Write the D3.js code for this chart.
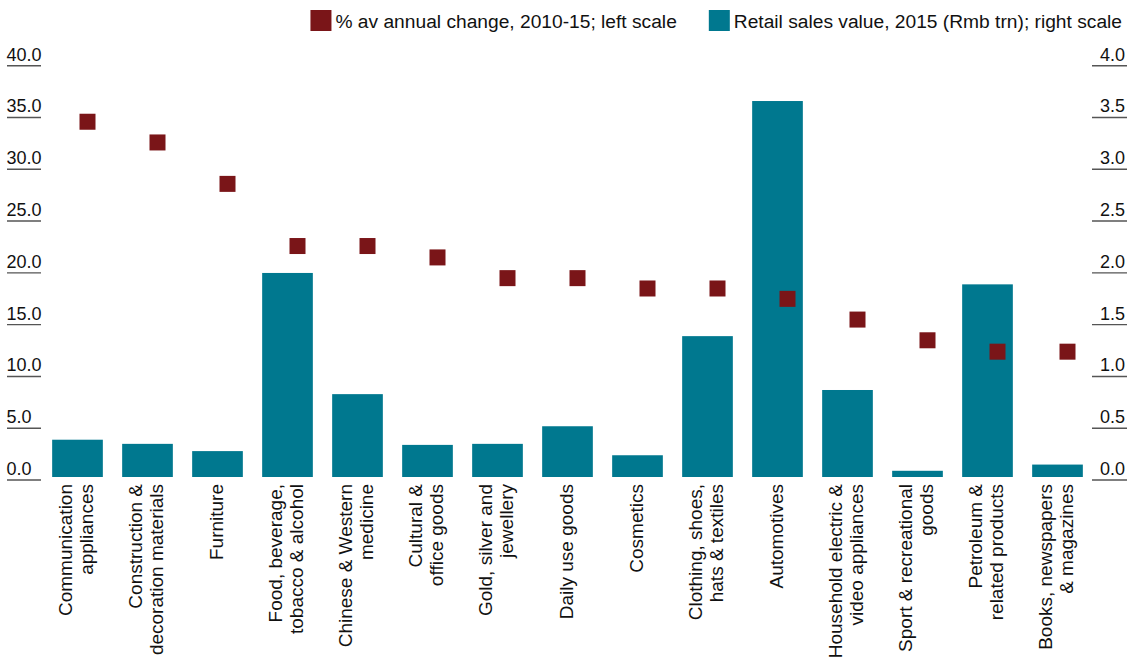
<!DOCTYPE html>
<html>
<head>
<meta charset="utf-8">
<script src="https://cdn.jsdelivr.net/npm/d3@7"></script>
<style>
  html, body { margin: 0; padding: 0; background: #fff; }
  svg { display: block; font-family: "Liberation Sans", Arial, sans-serif; }
</style>
</head>
<body>
<svg id="chart" width="1127" height="658"></svg>
<script>
// ---- data ----
const categories = [
  "Communication appliances",
  "Construction & decoration materials",
  "Furniture",
  "Food, beverage, tobacco & alcohol",
  "Chinese & Western medicine",
  "Cultural & office goods",
  "Gold, silver and jewellery",
  "Daily use goods",
  "Cosmetics",
  "Clothing, shoes, hats & textiles",
  "Automotives",
  "Household electric & video appliances",
  "Sport & recreational goods",
  "Petroleum & related products",
  "Books, newspapers & magazines"
];
const categoryLines = [
  ["Communication", "appliances"],
  ["Construction &", "decoration materials"],
  ["Furniture"],
  ["Food, beverage,", "tobacco & alcohol"],
  ["Chinese & Western", "medicine"],
  ["Cultural &", "office goods"],
  ["Gold, silver and", "jewellery"],
  ["Daily use goods"],
  ["Cosmetics"],
  ["Clothing, shoes,", "hats & textiles"],
  ["Automotives"],
  ["Household electric &", "video appliances"],
  ["Sport & recreational", "goods"],
  ["Petroleum &", "related products"],
  ["Books, newspapers", "& magazines"]
];
// % av annual change, 2010-15 (left scale)
const annualChange = [34.3, 32.3, 28.3, 22.3, 22.3, 21.2, 19.2, 19.2, 18.2, 18.2, 17.2, 15.2, 13.2, 12.1, 12.1];
// Retail sales value, 2015, Rmb trn (right scale)
const salesValue = [0.36, 0.32, 0.25, 1.97, 0.80, 0.31, 0.32, 0.49, 0.21, 1.36, 3.63, 0.84, 0.06, 1.86, 0.12];
const leftTicks = [0, 5, 10, 15, 20, 25, 30, 35, 40];
const rightTicks = [0, 0.5, 1, 1.5, 2, 2.5, 3, 3.5, 4];
const legendLabels = ["% av annual change, 2010-15; left scale", "Retail sales value, 2015 (Rmb trn); right scale"];

// ---- styles ----
const MAROON = "#7a1518";
const TEAL = "#00788f";
const TICK = "#555";

const svg = d3.select("#chart");

const x = d3.scaleBand()
  .domain(categories)
  .range([42.5, 1092.5])
  .paddingInner(0.276)
  .paddingOuter(0.138);

const yLeft = d3.scaleLinear().domain([0, 40]).range([477, 62.7]);
const yRight = d3.scaleLinear().domain([0, 4]).range([477, 62.7]);

// ---- axes (underlined tick labels) ----
const tickOffset = 3;
const leftG = svg.append("g");
leftG.selectAll("line").data(leftTicks).join("line")
  .attr("x1", 7).attr("x2", 41)
  .attr("y1", d => yLeft(d) + tickOffset).attr("y2", d => yLeft(d) + tickOffset)
  .attr("stroke", TICK).attr("stroke-width", 1.4);
leftG.selectAll("text").data(leftTicks).join("text")
  .attr("x", 6.5)
  .attr("y", d => yLeft(d) + tickOffset - 5)
  .attr("font-size", 18)
  .attr("fill", "#111")
  .text(d3.format(".1f"));

const rightG = svg.append("g");
rightG.selectAll("line").data(rightTicks).join("line")
  .attr("x1", 1092).attr("x2", 1127)
  .attr("y1", d => yRight(d) + tickOffset).attr("y2", d => yRight(d) + tickOffset)
  .attr("stroke", TICK).attr("stroke-width", 1.4);
rightG.selectAll("text").data(rightTicks).join("text")
  .attr("x", 1125)
  .attr("y", d => yRight(d) + tickOffset - 5)
  .attr("text-anchor", "end")
  .attr("font-size", 18)
  .attr("fill", "#111")
  .text(d3.format(".1f"));

// ---- bars ----
svg.append("g").selectAll("rect").data(categories).join("rect")
  .attr("x", d => x(d))
  .attr("width", x.bandwidth())
  .attr("y", (d, i) => yRight(salesValue[i]))
  .attr("height", (d, i) => yRight(0) - yRight(salesValue[i]))
  .attr("fill", TEAL);

// ---- markers ----
const mSize = 16, mShift = 10;
svg.append("g").selectAll("rect").data(categories).join("rect")
  .attr("x", d => x(d) + x.bandwidth() / 2 + mShift - mSize / 2)
  .attr("y", (d, i) => yLeft(annualChange[i]) - mSize / 2)
  .attr("width", mSize).attr("height", mSize)
  .attr("fill", MAROON);

// ---- category labels (rotated) ----
const lh = 21;
const labG = svg.append("g");
categories.forEach((c, i) => {
  const lines = categoryLines[i];
  const cx = x(c) + x.bandwidth() / 2;
  lines.forEach((ln, j) => {
    const bx = cx + (j - (lines.length - 1) / 2) * lh + 5;
    labG.append("text")
      .attr("transform", `translate(${bx},484) rotate(-90)`)
      .attr("text-anchor", "end")
      .attr("font-size", 19)
      .attr("fill", "#111")
      .text(ln);
  });
});

// ---- legend (right-aligned) ----
const legG = svg.append("g");
const legFont = 19.2;
const legColors = [MAROON, TEAL];
let right = 1122;
for (let k = legendLabels.length - 1; k >= 0; k--) {
  const t = legG.append("text")
    .attr("y", 28)
    .attr("font-size", legFont)
    .attr("fill", "#111")
    .text(legendLabels[k]);
  const w = t.node().getComputedTextLength();
  const tx = right - w;
  t.attr("x", tx);
  legG.append("rect")
    .attr("x", tx - 25).attr("y", 10)
    .attr("width", 21).attr("height", 21)
    .attr("fill", legColors[k]);
  right = tx - 25 - 32;
}
</script>
</body>
</html>
